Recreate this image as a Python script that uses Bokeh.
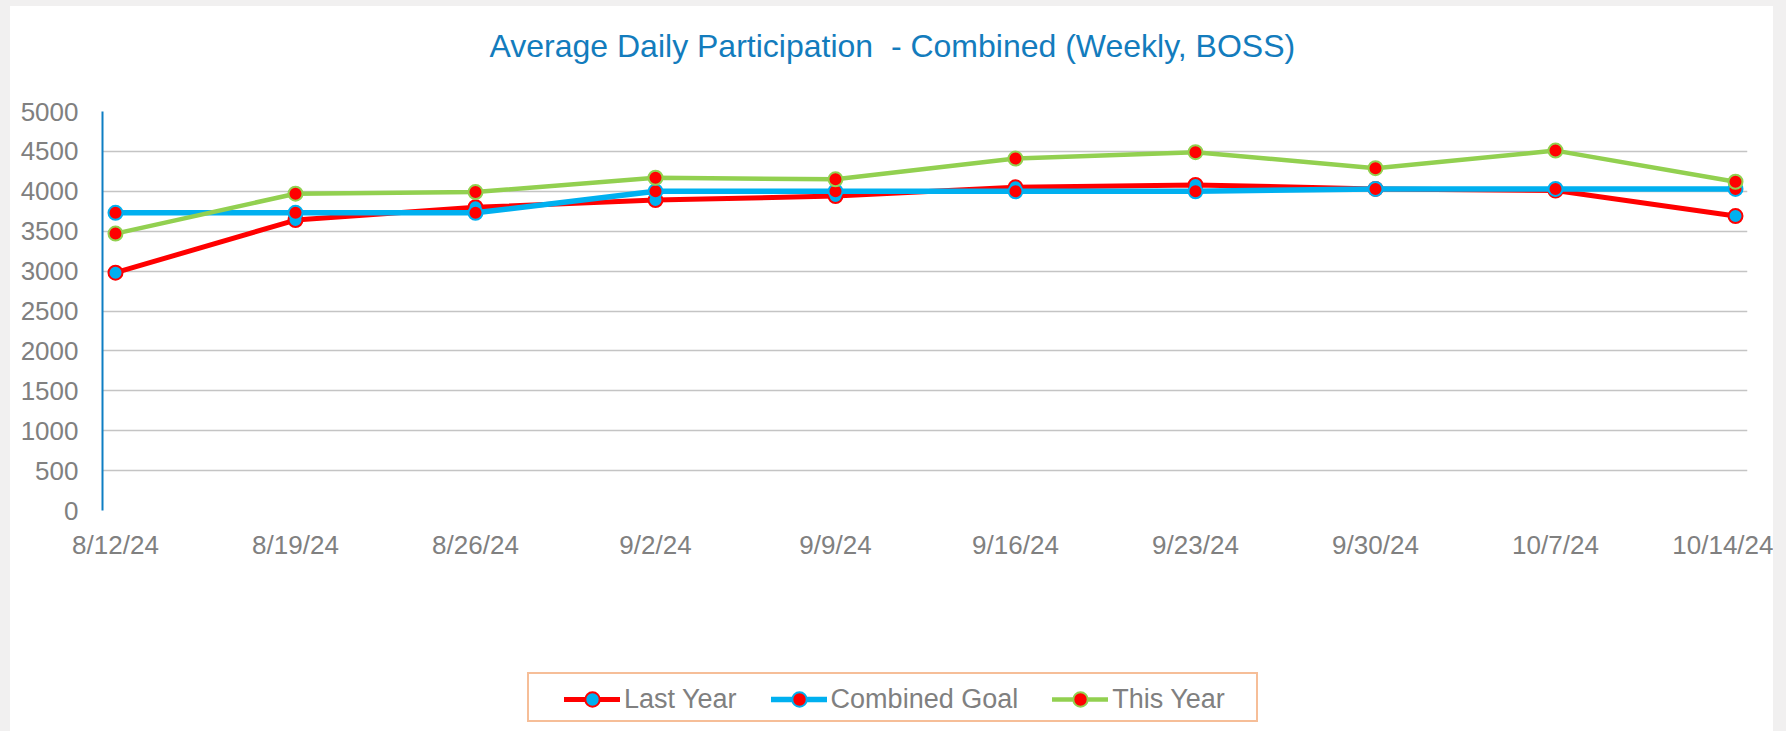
from bokeh.plotting import figure
from bokeh.layouts import column
from bokeh.models import FixedTicker, Legend, LegendItem, Range1d, Title
from bokeh.embed import file_html
from bokeh.resources import INLINE

# ---- data ----
dates = ["8/12/24", "8/19/24", "8/26/24", "9/2/24", "9/9/24",
         "9/16/24", "9/23/24", "9/30/24", "10/7/24", "10/14/24"]
last_year = [2980, 3640, 3800, 3890, 3940, 4050, 4080, 4030, 4010, 3690]
combined_goal = [3730, 3730, 3730, 4000, 4000, 4000, 4000, 4030, 4030, 4030]
this_year = [3470, 3970, 3990, 4170, 4150, 4410, 4490, 4290, 4510, 4120]
y_ticks = [0, 500, 1000, 1500, 2000, 2500, 3000, 3500, 4000, 4500, 5000]
series_names = ["Last Year", "Combined Goal", "This Year"]
title_text = "Average Daily Participation\u00a0 - Combined (Weekly, BOSS)"

FONT = "Liberation Sans"
RED = "#FF0000"
BLUE = "#00B0F0"
GREEN = "#92D050"
GREY = "#808080"

xs = list(range(len(dates)))

p = figure(width=1763, height=635, output_backend="svg", toolbar_location=None,
           tools="", title=None, x_range=Range1d(-0.0722, 9.0667),
           y_range=Range1d(0, 5000),
           min_border_left=92, min_border_right=26, min_border_top=105,
           min_border_bottom=131, styles={"background-color": "white"})
p.outline_line_color = None
p.background_fill_color = "white"
p.border_fill_color = "white"

# title (an empty second line keeps it clear of the frame)
title = Title(text=title_text + "\n", text_font=FONT, text_font_size="32px",
              text_font_style="normal", text_color="#137CBD", align="left",
              offset=387, standoff=24)
p.add_layout(title, "above")

# axes
yax = p.yaxis[0]
yax.ticker = FixedTicker(ticks=y_ticks)
yax.axis_line_color = "#0E7EC3"
yax.axis_line_width = 2
yax.major_tick_line_color = None
yax.minor_tick_line_color = None
yax.major_tick_out = 0
yax.major_tick_in = 0
yax.major_label_standoff = 24
yax.major_label_text_font = FONT
yax.major_label_text_font_size = "26px"
yax.major_label_text_color = GREY

xax = p.xaxis[0]
xax.ticker = FixedTicker(ticks=xs)
xax.major_label_overrides = {i: d for i, d in enumerate(dates)}
xax.axis_line_color = None
xax.major_tick_line_color = None
xax.minor_tick_line_color = None
xax.major_tick_out = 0
xax.major_tick_in = 0
xax.major_label_standoff = 19
xax.major_label_text_font = FONT
xax.major_label_text_font_size = "26px"
xax.major_label_text_color = GREY

p.xgrid.grid_line_color = None
p.ygrid.ticker = FixedTicker(ticks=y_ticks[1:])
p.ygrid.grid_line_color = "#C4C4C4"
p.ygrid.grid_line_width = 1.5

styles = [(RED, 5, BLUE), (BLUE, 5.5, RED), (GREEN, 4.5, RED)]

for vals, (lc, lw, fc) in zip([last_year, combined_goal, this_year], styles):
    p.line(xs, vals, line_color=lc, line_width=lw, line_join="round",
           line_cap="round")
    p.scatter(xs, vals, size=14, fill_color=fc, line_color=lc, line_width=2)

# ---- legend strip below the chart ----
pl = figure(width=1763, height=90, output_backend="svg", toolbar_location=None,
            tools="", title=None, x_range=Range1d(0, 1), y_range=Range1d(0, 1),
            x_axis_type=None, y_axis_type=None, min_border=0,
            styles={"background-color": "white"})
pl.outline_line_color = None
pl.grid.grid_line_color = None
pl.background_fill_color = "white"
pl.border_fill_color = "white"

items = []
for name, (lc, lw, fc) in zip(series_names, styles):
    rl = pl.line([-5, -4], [-5, -4], line_color=lc, line_width=lw,
                 line_cap="round")
    rs = pl.scatter([-5], [-5], size=14, fill_color=fc, line_color=lc,
                    line_width=2)
    items.append(LegendItem(label=name, renderers=[rl, rs]))

r_dummy = pl.scatter([-5], [-5], size=0, fill_alpha=0, line_alpha=0)

frame_legend = Legend(items=[LegendItem(label=" ", renderers=[r_dummy])],
                      location=(425, 9), orientation="horizontal",
                      glyph_width=707, glyph_height=46, label_width=20,
                      label_height=20, label_standoff=0, padding=0, margin=0,
                      border_line_color="#ED7D31", border_line_width=2,
                      background_fill_color="white", background_fill_alpha=1,
                      label_text_font_size="1px")
pl.add_layout(frame_legend, "center")

legend = Legend(items=items, location=(462, 14), orientation="horizontal",
                glyph_width=56, glyph_height=36, label_height=30,
                label_standoff=4, spacing=34, padding=0, margin=0,
                border_line_color=None, background_fill_alpha=0,
                label_text_font=FONT, label_text_font_size="27px",
                label_text_color=GREY)
pl.add_layout(legend, "center")

card = column(p, pl, spacing=0, margin=(6, 13, 0, 10),
              styles={"background-color": "white"})
page = column(card, spacing=0, styles={"background-color": "#F1F0F0"})
open("out.html", "w").write(file_html(page, INLINE))
